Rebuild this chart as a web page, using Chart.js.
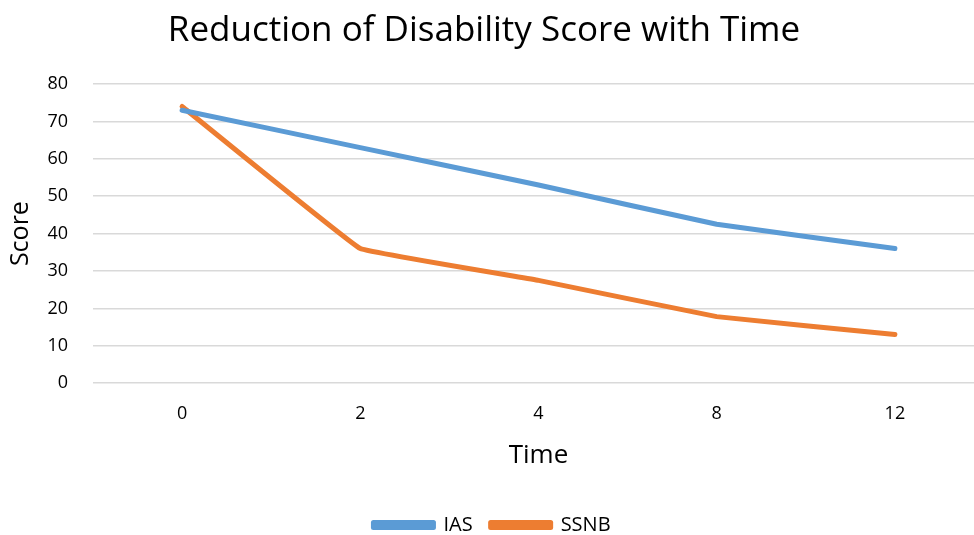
<!DOCTYPE html>
<html><head><meta charset="utf-8">
<script src="https://cdn.jsdelivr.net/npm/chart.js@4/dist/chart.umd.min.js"></script>
<style>
html,body{margin:0;padding:0;background:#fff;overflow:hidden;width:974px;height:535px;}
#clip{width:974px;height:535px;overflow:hidden;position:relative;}
#wrap{width:984px;height:545px;position:absolute;left:0;top:0;}
</style></head>
<body><div id="clip"><div id="wrap"><canvas id="c"></canvas></div></div>
<script>
const categories = ["0","2","4","8","12"];
const iasValues = [73, 63, 53, 42.5, 36];
const ssnbValues = [74, 36, 27.5, 17.8, 13];
const yTicks = [0,10,20,30,40,50,60,70,80];

const FONT = "'Open Sans', 'Noto Sans', sans-serif";
const titleShift = {
  id:'titleShift',
  afterLayout(chart){ const t = chart.titleBlock; if(t){ t.left -= 8; t.right -= 8; } }
};
new Chart(document.getElementById('c'), {
  type: 'line',
  data: {
    labels: categories,
    datasets: [
      {label:'IAS', data: iasValues, borderColor:'#5B9BD5', backgroundColor:'#5B9BD5', borderWidth:5, pointRadius:0, tension:0.05, borderCapStyle:'round', borderJoinStyle:'round'},
      {label:'SSNB', data: ssnbValues, borderColor:'#ED7D31', backgroundColor:'#ED7D31', borderWidth:5, pointRadius:0, tension:0.05, borderCapStyle:'round', borderJoinStyle:'round'}
    ]
  },
  plugins:[titleShift],
  options: {
    responsive:true, maintainAspectRatio:false, animation:false,
    layout:{padding:{left:0,right:0,top:0,bottom:0}},
    plugins:{
      title:{display:true, text:'Reduction of Disability Score with Time', color:'#000', font:{family:FONT, size:35, weight:'normal'}, padding:{top:10,bottom:32}},
      legend:{position:'bottom', labels:{boxWidth:60, boxHeight:5, color:'#000', font:{family:FONT,size:20}, padding:18}},
      tooltip:{enabled:false}
    },
    scales:{
      x:{
        offset:true,
        grid:{display:false, drawTicks:false},
        border:{display:false},
        ticks:{color:'#000', font:{family:FONT,size:18}, padding:20},
        title:{display:true, text:'Time', color:'#000', font:{family:FONT,size:26}, padding:{top:-5,bottom:26}}
      },
      y:{
        min:0, max:80,
        afterBuildTicks:(s)=>{ s.ticks = yTicks.map(v=>({value:v})); },
        afterFit:(s)=>{ s.width = 93; },
        grid:{color:'#d9d9d9', lineWidth:1.5, drawTicks:false},
        border:{display:false},
        ticks:{color:'#000', font:{family:FONT,size:18}, padding:25},
        title:{display:true, text:'Score', color:'#000', font:{family:FONT,size:25}, padding:{top:6,bottom:0}}
      }
    }
  }
});
</script></body></html>
